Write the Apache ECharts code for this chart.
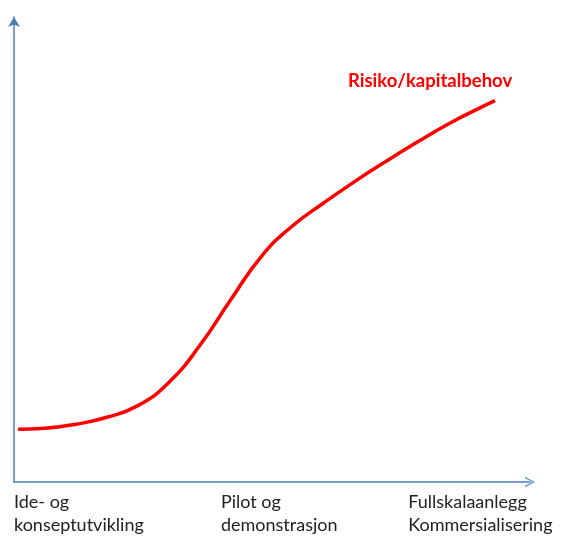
<!DOCTYPE html>
<html>
<head>
<meta charset="utf-8">
<script src="https://cdn.jsdelivr.net/npm/echarts@6/dist/echarts.min.js"></script>
<style>html,body{margin:0;padding:0;background:#fff}#c{width:563px;height:537px}</style>
</head>
<body>
<div id="c"></div>
<script>
// Stage positions along x (0-100) and labels
var stageLabels = ['Ide- og\nkonseptutvikling', 'Pilot og\ndemonstrasjon', 'Fullskalaanlegg\nKommersialisering'];
var stagePositions = [0, 40.1, 76.4];
// Curve: x (progress) and y (risk / capital need)
var curveX = [0.78, 6, 12, 18, 24, 30, 36, 42, 48, 54, 60, 66, 72, 78, 84, 90, 93.22];
var curveY = [11.35, 11.56, 12.42, 13.92, 16.42, 21.41, 29.34, 39.19, 48.6, 55.1, 60.0, 64.6, 68.9, 73.0, 76.9, 80.3, 82.01];
var seriesName = 'Risiko/kapitalbehov';

var data = curveX.map(function (x, i) { return [x, curveY[i]]; });
var axisColor = '#4a7ebb';
var chart = echarts.init(document.getElementById('c'));
chart.setOption({
  animation: false,
  title: {
    text: seriesName,
    left: 343, top: 67,
    textStyle: { color: '#ff0000', fontFamily: 'Lato', fontWeight: 'bold', fontSize: 18.5 }
  },
  grid: { left: 14, right: 33, top: 17, bottom: 53, containLabel: false },
  xAxis: {
    type: 'value', min: 0, max: 100,
    splitLine: { show: false },
    axisTick: { show: false },
    axisLine: {
      show: true,
      lineStyle: { color: axisColor, width: 1.5 },
      symbol: ['none', 'path://M0,20 L10,0 L20,20 L17.5,20 L10,4.5 L2.5,20 Z'],
      symbolSize: [12, 10]
    },
    axisLabel: {
      customValues: stagePositions,
      formatter: function (v) {
        var i = stagePositions.indexOf(v);
        return i >= 0 ? stageLabels[i] : '';
      },
      align: 'left',
      margin: 9,
      color: '#222',
      fontFamily: 'Lato',
      fontSize: 18,
      lineHeight: 23
    }
  },
  yAxis: {
    type: 'value', min: 0, max: 100,
    splitLine: { show: false },
    axisTick: { show: false },
    axisLabel: { show: false },
    axisLine: {
      show: true,
      lineStyle: { color: axisColor, width: 1.5 },
      symbol: ['none', 'arrow'],
      symbolSize: [9, 10]
    }
  },
  series: [{
    name: seriesName,
    type: 'line',
    data: data,
    smooth: 0.5,
    showSymbol: false,
    lineStyle: { color: '#ff0000', width: 3.5 }
  }]
});
</script>
</body>
</html>
